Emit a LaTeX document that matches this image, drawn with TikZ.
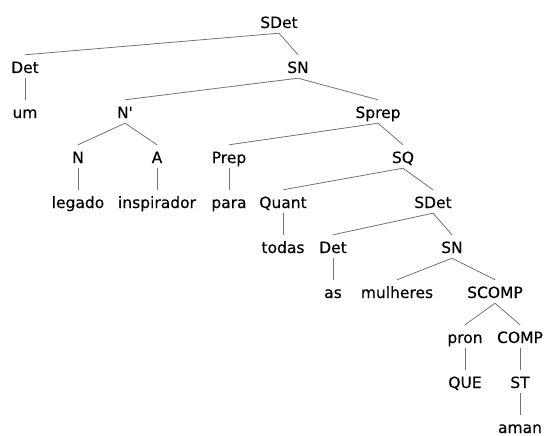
\documentclass[tikz,border=0pt]{standalone}
\usepackage{fontspec}
\setmainfont{DejaVu Sans}[Ligatures=TeXOff, FakeBold=0.3]
\begin{document}
\begin{tikzpicture}[x=1pt,y=-1pt,
  lbl/.style={inner sep=0pt, text height=18pt, text depth=5pt, anchor=base,
    font=\fontsize{15.5}{18}\selectfont},
  edge/.style={draw=black!55, line width=0.8pt}]
\useasboundingbox (0,0) rectangle (544,436);
% row 0
\node[lbl] (sdet0) at (279,28) {SDet};
% row 1
\node[lbl] (det1) at (25,73) {Det};
\node[lbl] (sn1) at (298,73) {SN};
% row 2
\node[lbl] (um) at (25,118) {um};
\node[lbl] (nbar) at (125,118) {N'};
\node[lbl] (sprep) at (378,118) {Sprep};
% row 3
\node[lbl] (n) at (78,163) {N};
\node[lbl] (a) at (157,163) {A};
\node[lbl] (prep) at (229,163) {Prep};
\node[lbl] (sq) at (403,163) {SQ};
% row 4
\node[lbl] (legado) at (78,208) {legado};
\node[lbl] (inspirador) at (157,208) {inspirador};
\node[lbl] (para) at (229,208) {para};
\node[lbl] (quant) at (283,208) {Quant};
\node[lbl] (sdet2) at (433,208) {SDet};
% row 5
\node[lbl] (todas) at (283,253) {todas};
\node[lbl] (det2) at (333,253) {Det};
\node[lbl] (sn2) at (452,253) {SN};
% row 6
\node[lbl] (as) at (333,298) {as};
\node[lbl] (mulheres) at (397,298) {mulheres};
\node[lbl] (scomp) at (495,298) {SCOMP};
% row 7
\node[lbl] (pron) at (465,343) {pron};
\node[lbl] (comp) at (520,343) {COMP};
% row 8
\node[lbl] (que) at (465,388) {QUE};
\node[lbl] (st) at (520,388) {ST};
% row 9
\node[lbl] (aman) at (520,433) {aman};
% edges
\foreach \p/\c in {sdet0/det1, sdet0/sn1, det1/um, sn1/nbar, sn1/sprep,
  nbar/n, nbar/a, n/legado, a/inspirador, sprep/prep, sprep/sq, prep/para,
  sq/quant, sq/sdet2, quant/todas, sdet2/det2, sdet2/sn2, det2/as,
  sn2/mulheres, sn2/scomp, scomp/pron, scomp/comp, pron/que, comp/st, st/aman}
  \draw[edge] (\p.south) -- (\c.north);
\end{tikzpicture}
\end{document}
